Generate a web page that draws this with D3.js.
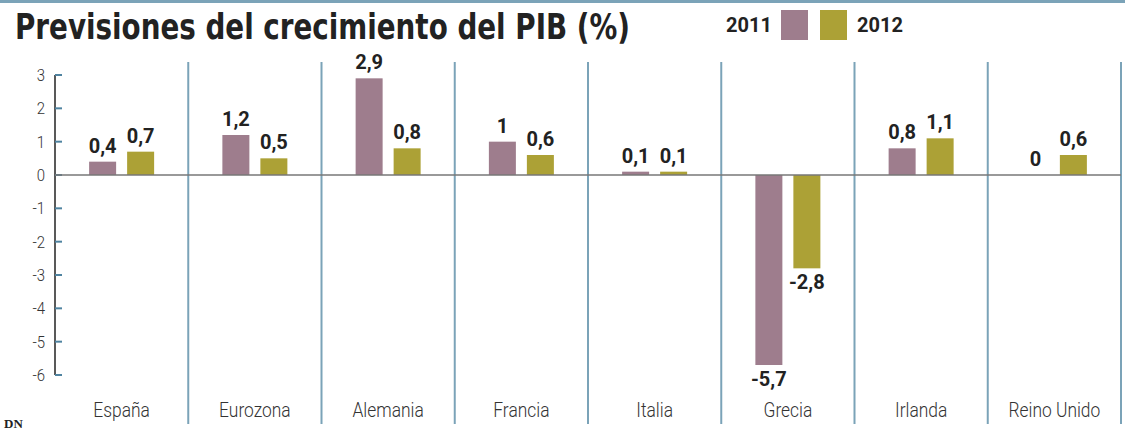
<!DOCTYPE html>
<html>
<head>
<meta charset="utf-8">
<script src="https://cdn.jsdelivr.net/npm/d3@7"></script>
<style>
  body { margin: 0; background: #fff; }
  svg { display: block; }
</style>
</head>
<body>
<div id="chart"></div>
<script>
// data
const countries = ["España", "Eurozona", "Alemania", "Francia", "Italia", "Grecia", "Irlanda", "Reino Unido"];
const years = ["2011", "2012"];
const values2011 = [0.4, 1.2, 2.9, 1, 0.1, -5.7, 0.8, 0];
const values2012 = [0.7, 0.5, 0.8, 0.6, 0.1, -2.8, 1.1, 0.6];
const yTicks = [3, 2, 1, 0, -1, -2, -3, -4, -5, -6];

const width = 1125, height = 431;
const colors = { "2011": "#9e7d8d", "2012": "#aca136" };
const sepColor = "#7ba3b8";

const svg = d3.select("#chart").append("svg")
    .attr("width", width)
    .attr("height", height);

// top rule
svg.append("rect").attr("x", 0).attr("y", 0).attr("width", width).attr("height", 3).attr("fill", sepColor);

// title
svg.append("text")
    .text("Previsiones del crecimiento del PIB (%)")
    .attr("x", 15).attr("y", 39)
    .attr("font-family", "DejaVu Sans Condensed, DejaVu Sans")
    .attr("font-stretch", "condensed")
    .attr("font-weight", "bold")
    .attr("font-size", "35px")
    .attr("fill", "#222")
    .attr("textLength", 615)
    .attr("lengthAdjust", "spacingAndGlyphs");

// legend
const legend = svg.append("g")
    .attr("font-family", "Roboto").attr("font-weight", "bold")
    .attr("font-size", "20px").attr("fill", "#222");
legend.append("text").text(years[0])
    .attr("x", 772).attr("y", 32).attr("text-anchor", "end");
legend.append("rect").attr("x", 781).attr("y", 10).attr("width", 27).attr("height", 30).attr("fill", colors["2011"]);
legend.append("rect").attr("x", 820).attr("y", 10).attr("width", 27).attr("height", 30).attr("fill", colors["2012"]);
legend.append("text").text(years[1])
    .attr("x", 857).attr("y", 32);

// scales
const x = d3.scaleBand().domain(countries).range([55, 1121]).padding(0);
const y = d3.scaleLinear().domain([-6, 3]).range([375, 75]);

// separators between groups
svg.selectAll(".sep").data(countries).enter().append("line")
    .attr("class", "sep")
    .attr("x1", d => x(d) + x.bandwidth()).attr("x2", d => x(d) + x.bandwidth())
    .attr("y1", 62).attr("y2", 424)
    .attr("stroke", sepColor).attr("stroke-width", 2);

// y axis
const yAxis = svg.append("g");
yAxis.append("line").attr("x1", 55).attr("x2", 55).attr("y1", y(3)).attr("y2", y(-6))
    .attr("stroke", "#222").attr("stroke-width", 1.5);
yAxis.selectAll(".tick").data(yTicks).enter().append("line")
    .attr("x1", 55).attr("x2", 62)
    .attr("y1", d => y(d)).attr("y2", d => y(d))
    .attr("stroke", "#4f83a0").attr("stroke-width", 2);
yAxis.selectAll(".tl").data(yTicks).enter().append("text")
    .text(d => d)
    .attr("transform", d => `translate(45, ${y(d) + 6}) scale(0.88, 1)`)
    .attr("text-anchor", "end")
    .attr("font-family", "Roboto").attr("font-weight", 300)
    .attr("font-size", "17px").attr("fill", "#333");

// bars
const rows = [];
countries.forEach((c, i) => {
    rows.push({ country: c, year: "2011", value: values2011[i] });
    rows.push({ country: c, year: "2012", value: values2012[i] });
});
const barW = 27;
const offset = { "2011": -32.5, "2012": 5.5 };
const cx = c => x(c) + x.bandwidth() / 2;

svg.selectAll(".bar").data(rows).enter().append("rect")
    .attr("class", "bar")
    .attr("x", d => cx(d.country) + offset[d.year])
    .attr("width", barW)
    .attr("y", d => y(Math.max(0, d.value)))
    .attr("height", d => Math.abs(y(d.value) - y(0)))
    .attr("fill", d => colors[d.year]);

// zero line
svg.append("line").attr("x1", 55).attr("x2", 1121).attr("y1", y(0)).attr("y2", y(0))
    .attr("stroke", "#777").attr("stroke-width", 1.5);

// value labels
const fmt = v => String(v).replace(".", ",");
svg.selectAll(".val").data(rows).enter().append("text")
    .attr("class", "val")
    .text(d => fmt(d.value))
    .attr("x", d => cx(d.country) + offset[d.year] + barW / 2)
    .attr("y", d => d.value >= 0 ? y(d.value) - 9 : y(d.value) + 21)
    .attr("text-anchor", "middle")
    .attr("font-family", "Roboto").attr("font-weight", "bold")
    .attr("font-size", "20px").attr("fill", "#222");

// category labels
svg.selectAll(".cat").data(countries).enter().append("text")
    .text(d => d)
    .attr("transform", d => `translate(${cx(d)}, 417) scale(0.87, 1)`)
    .attr("text-anchor", "middle")
    .attr("font-family", "Roboto").attr("font-weight", 300)
    .attr("font-size", "20px").attr("fill", "#333");

// source mark
svg.append("text").text("DN")
    .attr("x", 4).attr("y", 428)
    .attr("font-family", "Liberation Serif").attr("font-weight", "bold")
    .attr("font-size", "13px").attr("fill", "#222");
</script>
</body>
</html>
